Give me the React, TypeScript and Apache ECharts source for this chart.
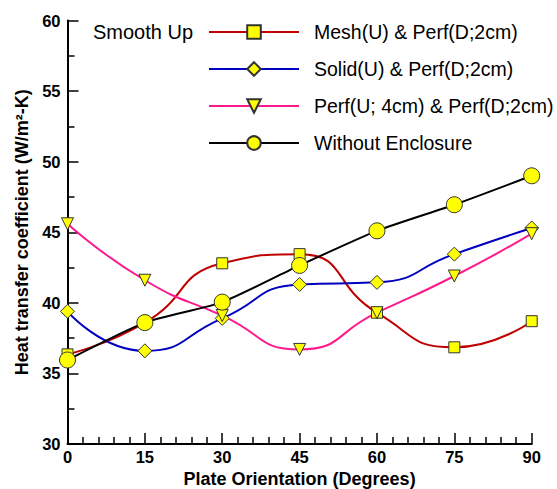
import { useEffect, useRef } from "react";
import * as echarts from "echarts";

const angles = [0, 15, 30, 45, 60, 75, 90];
const meshValues = [36.35, 38.6, 42.8, 43.45, 39.3, 36.85, 38.7];
const solidValues = [39.4, 36.6, 38.9, 41.3, 41.45, 43.45, 45.3];
const perfValues = [45.6, 41.6, 39.1, 36.7, 39.3, 41.9, 44.9];
const withoutValues = [35.95, 38.6, 40.05, 42.65, 45.1, 46.95, 49.0];
const seriesNames = [
  "Mesh(U) & Perf(D;2cm)",
  "Solid(U) & Perf(D;2cm)",
  "Perf(U; 4cm) & Perf(D;2cm)",
  "Without Enclosure",
];
const chartLabel = "Smooth Up";
const xTitle = "Plate Orientation (Degrees)";
const yTitle = "Heat transfer coefficient (W/m²-K)";

const FONT = "'Liberation Sans', Arial, Helvetica, sans-serif";

export default function App() {
  const ref = useRef<HTMLDivElement>(null);
  useEffect(() => {
    if (!ref.current) return;
    const chart = echarts.init(ref.current, undefined, { renderer: "svg" });
    const pair = (vals: number[]) => angles.map((a, i) => [a, vals[i]]);
    const marker = { color: "#ffff00", borderColor: "#333333", borderWidth: 1 };
    const mk = (
      name: string,
      vals: number[],
      color: string,
      symbol: string,
      size: number,
      smooth: number,
      rotate = 0
    ) => ({
      type: "line",
      name,
      data: pair(vals),
      smooth,
      symbol,
      symbolSize: size,
      symbolRotate: rotate,
      lineStyle: { color, width: 2 },
      itemStyle: marker,
      emphasis: { disabled: true },
    });
    chart.setOption({
      animation: false,
      textStyle: { fontFamily: FONT },
      grid: {
        left: 67.5,
        right: 25.3,
        top: 20.5,
        bottom: 45,
        containLabel: false,
        outerBoundsMode: "none",
      },
      graphic: [
        {
          type: "text",
          left: 93,
          top: 22,
          style: { text: chartLabel, font: `20px ${FONT}`, fill: "#000" },
        },
      ],
      legend: {
        orient: "vertical",
        left: 208,
        top: 22,
        padding: 0,
        itemWidth: 90,
        itemHeight: 17,
        itemGap: 17,
        selectedMode: false,
        textStyle: { fontSize: 19.5, color: "#000", fontFamily: FONT, padding: [0, 0, 0, 10] },
        data: seriesNames,
      },
      xAxis: {
        type: "value",
        min: 0,
        max: 90,
        interval: 15,
        name: xTitle,
        nameLocation: "middle",
        nameGap: 25,
        nameTextStyle: { fontSize: 18, fontWeight: "bold", color: "#000", fontFamily: FONT },
        axisLine: { lineStyle: { color: "#000", width: 2 } },
        axisTick: { inside: true, length: 11, lineStyle: { color: "#000", width: 1.5 } },
        minorTick: { show: true, splitNumber: 5, length: 7, lineStyle: { color: "#000", width: 1.5 } },
        axisLabel: { fontSize: 16.5, fontWeight: "bold", color: "#000", margin: 4, fontFamily: FONT },
        splitLine: { show: false },
      },
      yAxis: {
        type: "value",
        min: 30,
        max: 60,
        interval: 5,
        name: yTitle,
        nameLocation: "middle",
        nameGap: 34,
        nameTextStyle: { fontSize: 18, fontWeight: "bold", color: "#000", fontFamily: FONT },
        axisLine: { show: true, lineStyle: { color: "#000", width: 2 } },
        axisTick: { show: true, inside: true, length: 11, lineStyle: { color: "#000", width: 1.5 } },
        minorTick: { show: true, splitNumber: 2, length: 7, lineStyle: { color: "#000", width: 1.5 } },
        axisLabel: { fontSize: 16.5, fontWeight: "bold", color: "#000", margin: 7, fontFamily: FONT },
        splitLine: { show: false },
      },
      series: [
        mk(seriesNames[0], meshValues, "#c00000", "rect", 11, 0.55),
        mk(seriesNames[1], solidValues, "#0000c0", "diamond", 14, 0.55),
        mk(seriesNames[2], perfValues, "#ff1a8c", "triangle", 12, 0.55, 180),
        mk(seriesNames[3], withoutValues, "#000000", "circle", 16, 0.2),
      ],
    });
    return () => chart.dispose();
  }, []);
  return (
    <div
      ref={ref}
      style={{ position: "fixed", left: 0, top: 0, width: 557, height: 489, background: "#fff" }}
    />
  );
}
